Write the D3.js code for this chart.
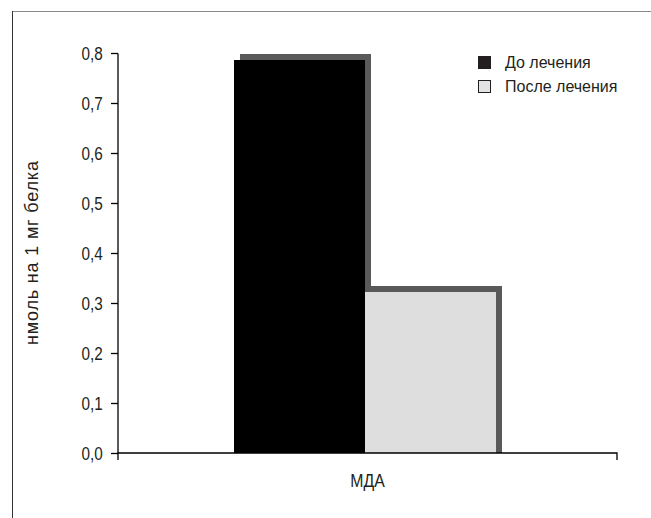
<!DOCTYPE html>
<meta charset="utf-8">
<script src="https://d3js.org/d3.v7.min.js"></script>
<style>
  body { margin: 0; background: #fff; }
  text { font-family: "Liberation Sans", Arial, sans-serif; fill: #231f20; }
</style>
<div id="chart"></div>
<script>
// data
var categories = ["МДА"];
var series = ["До лечения", "После лечения"];
var values = [0.786, 0.322];
var yTicks = [0, 0.1, 0.2, 0.3, 0.4, 0.5, 0.6, 0.7, 0.8];
var yLabel = "нмоль на 1 мг белка";

var W = 651, H = 518;
var margin = {top: 53, left: 118},
    width = 499,
    height = 400;

var svg = d3.select("#chart").append("svg")
    .attr("width", W)
    .attr("height", H);

// frame (top and left edges only visible)
svg.append("line").attr("x1", 12).attr("x2", W).attr("y1", 11.5).attr("y2", 11.5)
  .attr("stroke", "#8a8a8a").attr("stroke-width", 1);
svg.append("line").attr("x1", 12.5).attr("x2", 12.5).attr("y1", 11).attr("y2", H)
  .attr("stroke", "#333").attr("stroke-width", 1);

var g = svg.append("g")
    .attr("transform", "translate(" + margin.left + "," + margin.top + ")");

var x0 = d3.scaleBand().domain(categories).range([0, width]);
// the pair of bars sits a little left of the band centre
var x1 = d3.scaleBand().domain(series).range([116, 378]);
var y = d3.scaleLinear().domain([0, 0.8]).range([height, 0]);

var colors = d3.scaleOrdinal().domain(series).range(["#000000", "#dedede"]);

var rows = series.map(function(s, i) { return {cat: categories[0], key: s, value: values[i]}; });
function barX(d) { return x0(d.cat) + x1(d.key); }

// shadows
var sh = 6;
g.selectAll(".shadow").data(rows).enter().append("rect")
  .attr("class", "shadow")
  .attr("x", function(d) { return barX(d) + sh; })
  .attr("y", function(d) { return y(d.value) - sh; })
  .attr("width", x1.bandwidth())
  .attr("height", function(d) { return height - y(d.value) + sh; })
  .attr("fill", "#595959");

// bars
g.selectAll(".bar").data(rows).enter().append("rect")
  .attr("class", "bar")
  .attr("x", barX)
  .attr("y", function(d) { return y(d.value); })
  .attr("width", x1.bandwidth())
  .attr("height", function(d) { return height - y(d.value); })
  .attr("fill", function(d) { return colors(d.key); });

// y axis
var yAxis = g.append("g")
  .call(d3.axisLeft(y).tickValues(yTicks).tickSize(7).tickPadding(11)
    .tickFormat(function(d) { return d3.format(".1f")(d).replace(".", ","); }));
yAxis.select(".domain").attr("d", "M0,0.5V" + height).attr("stroke", "#000").attr("stroke-width", 1.3);
yAxis.selectAll(".tick line").attr("stroke", "#000").attr("stroke-width", 1.3);
yAxis.selectAll("text").style("font-size", "18px").attr("dy", "0.36em")
  .attr("transform", "scale(0.85,1.05)");

// x axis
var xAxis = g.append("g")
  .attr("transform", "translate(0," + height + ")")
  .call(d3.axisBottom(x0).tickSize(0).tickPadding(20));
xAxis.select(".domain").remove();
xAxis.append("path")
  .attr("d", "M0,7V0H" + width + "V7")
  .attr("fill", "none").attr("stroke", "#000").attr("stroke-width", 1.3);
xAxis.selectAll("text").style("font-size", "18px").attr("transform", "scale(0.88,1.05)");

// y label
svg.append("text")
  .attr("transform", "translate(38," + (margin.top + height / 2) + ") rotate(-90)")
  .attr("text-anchor", "middle")
  .style("font-size", "18px")
  .attr("textLength", 184)
  .attr("lengthAdjust", "spacing")
  .text(yLabel);

// legend
var legend = svg.append("g").attr("transform", "translate(478,56)");
series.forEach(function(s, i) {
  legend.append("rect")
    .attr("x", 0.5).attr("y", i * 24 + 0.5)
    .attr("width", 12).attr("height", 12)
    .attr("fill", i === 0 ? "#231f20" : "#e2e3e5")
    .attr("stroke", "#231f20").attr("stroke-width", 1);
  legend.append("text")
    .attr("x", 27).attr("y", i * 24 + 6)
    .attr("dy", "0.36em")
    .style("font-size", "16px")
    .text(s);
});
</script>
